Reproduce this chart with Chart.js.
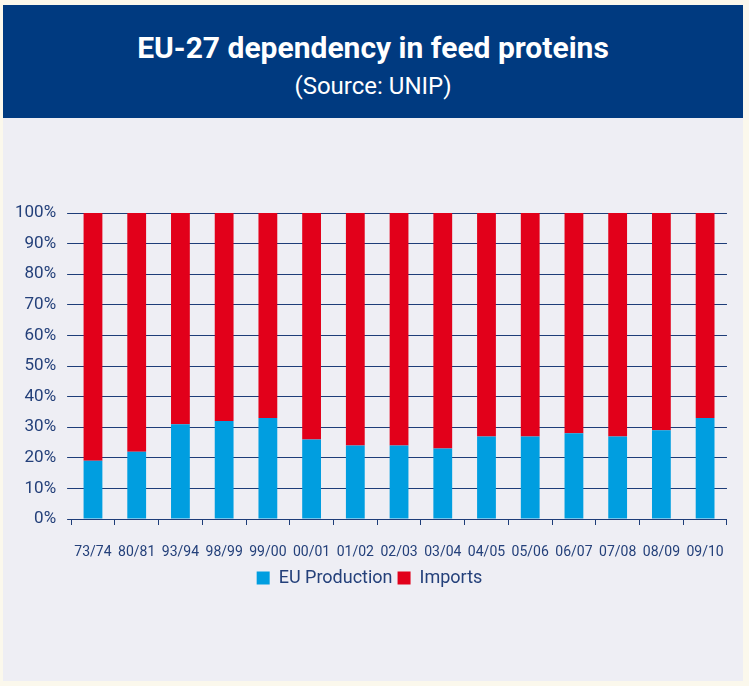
<!DOCTYPE html>
<html>
<head>
<meta charset="utf-8">
<script src="https://cdn.jsdelivr.net/npm/chart.js@4"></script>
<style>
  html, body { margin: 0; padding: 0; background: #fbf8ec; }
  #panel { position: absolute; left: 3px; top: 5px; width: 740px; height: 676px; background: #eeeef4; }
  #head { height: 113px; background: #003a80; color: #fff; text-align: center; font-family: "Roboto", sans-serif; }
  #head h1 { margin: 0; padding-top: 27px; font-size: 30px; font-weight: bold; line-height: 32px; }
  #head p { margin: 0; padding-top: 9px; font-size: 24px; line-height: 26px; }
  #wrap { position: absolute; left: 0; top: 113px; width: 740px; height: 563px; }
</style>
</head>
<body>
<div id="panel">
  <div id="head">
    <h1>EU-27 dependency in feed proteins</h1>
    <p>(Source: UNIP)</p>
  </div>
  <div id="wrap"><canvas id="chart"></canvas></div>
</div>
<script>
const seasons = ['73/74', '80/81', '93/94', '98/99', '99/00', '00/01', '01/02', '02/03', '03/04', '04/05', '05/06', '06/07', '07/08', '08/09', '09/10'];
const euProduction = [19, 22, 31, 32, 33, 26, 24, 24, 23, 27, 27, 28, 27, 29, 33];
const imports = [81, 78, 69, 68, 67, 74, 76, 76, 77, 73, 73, 72, 73, 71, 67];

const navy = '#1d3c78';
const textCol = '#24407a';

new Chart(document.getElementById('chart'), {
    type: 'bar',
    data: {
        labels: seasons,
        datasets: [
            { label: 'EU Production', data: euProduction, backgroundColor: '#009ee0' },
            { label: 'Imports', data: imports, backgroundColor: '#e2001a' }
        ]
    },
    options: {
        responsive: true,
        maintainAspectRatio: false,
        animation: false,
        layout: { padding: { top: 95, right: 8, left: 1, bottom: 84 } },
        datasets: { bar: { categoryPercentage: 1, barPercentage: 0.43 } },
        plugins: {
            tooltip: { enabled: false },
            legend: {
                position: 'bottom',
                labels: {
                    color: textCol,
                    boxWidth: 13,
                    boxHeight: 13,
                    padding: 5,
                    font: { family: 'Roboto', size: 18 }
                }
            }
        },
        scales: {
            x: {
                stacked: true,
                border: { color: navy, width: 1 },
                grid: { offset: true, drawOnChartArea: false, color: navy, tickLength: 6 },
                ticks: { color: textCol, font: { family: 'Roboto', size: 14 }, maxRotation: 0, padding: 19 },
                afterFit: scale => { scale.height = 45; }
            },
            y: {
                stacked: true,
                min: 0,
                max: 100,
                border: { display: false },
                grid: { color: navy, tickLength: 4 },
                ticks: {
                    stepSize: 10,
                    color: textCol,
                    font: { family: 'Roboto', size: 17 },
                    padding: 11,
                    callback: v => v + '%'
                }
            }
        }
    }
});
</script>
</body>
</html>
